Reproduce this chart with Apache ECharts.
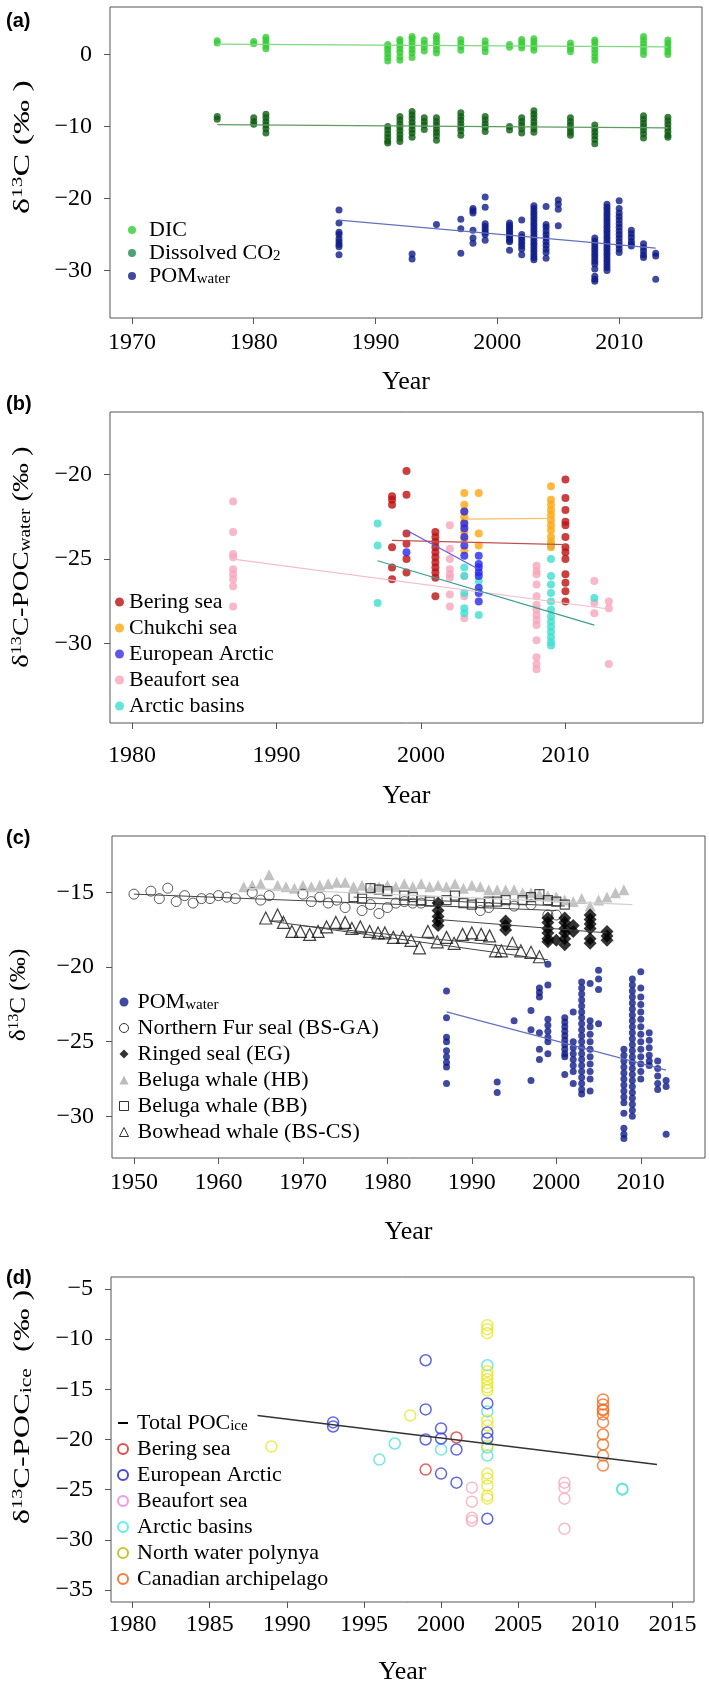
<!DOCTYPE html>
<html><head><meta charset="utf-8">
<script src="https://cdn.jsdelivr.net/npm/echarts@6/dist/echarts.min.js"></script>
<style>html,body{margin:0;padding:0;background:#fff}#c{width:709px;height:1687px}</style>
</head><body><div id="c"></div><script>
// ---------- Panel (a) ----------
const dicCols = [
 [1977,[1.6,1.9]],[1980,[1.5,1.8]],[1981,[0.8,1.2,1.6,2.0,2.4]],
 [1991,[-0.9,-0.4,0.1,0.6,1.0,1.4]],[1992,[-0.8,-0.3,0.3,0.8,1.3,1.8,2.1]],
 [1993,[-0.4,0.2,0.7,1.2,1.7,2.2,2.5]],[1994,[0.5,1.0,1.5,2.0]],
 [1995,[0.2,0.7,1.2,1.7,2.2,2.6]],[1997,[0.6,1.1,1.6,2.1]],[1999,[0.4,0.9,1.4,1.9]],
 [2001,[1.0,1.4]],[2002,[0.9,1.3,1.7,2.1]],[2003,[0.6,1.0,1.4,1.8,2.2]],
 [2006,[0.4,0.8,1.2,1.6]],[2008,[-0.8,-0.3,0.2,0.7,1.2,1.7,2.0]],
 [2012,[0.0,0.5,1.0,1.5,2.0,2.5]],[2014,[0.0,0.4,0.8,1.2,1.6,2.0]]
];
const dicFit = [[1977,1.45],[2014,1.05]];
const co2Cols = [
 [1977,[-8.6,-9.0]],[1980,[-8.8,-9.3,-9.7]],[1981,[-8.3,-8.8,-9.3,-9.8,-10.3,-10.9]],
 [1991,[-10.0,-10.5,-11.0,-11.5,-12.0,-12.3]],[1992,[-8.6,-9.1,-9.6,-10.1,-10.6,-11.1,-11.6,-12.1]],
 [1993,[-7.9,-8.4,-8.9,-9.4,-9.9,-10.4,-10.9,-11.5]],[1994,[-8.8,-9.3,-9.8,-10.4]],
 [1995,[-8.8,-9.3,-9.8,-10.3,-10.8,-11.3,-11.9]],[1997,[-8.1,-8.6,-9.1,-9.6,-10.1,-10.6,-11.2]],
 [1999,[-8.6,-9.1,-9.6,-10.1,-10.7]],[2001,[-10.0,-10.5]],[2002,[-8.8,-9.3,-9.8,-10.3,-10.9]],
 [2003,[-7.8,-8.3,-8.8,-9.3,-9.8,-10.3,-10.8]],[2006,[-8.8,-9.3,-9.8,-10.3,-10.8,-11.2]],
 [2008,[-9.8,-10.3,-10.8,-11.3,-11.8,-12.4]],[2012,[-8.5,-9.0,-9.5,-10.0,-10.5,-11.0,-11.6]],
 [2014,[-8.7,-9.2,-9.7,-10.2,-10.7,-11.2,-11.5]]
];
const co2Fit = [[1977,-9.75],[2014,-10.2]];
const pomCols = [
 [1987,[-21.6,-23.4,-24.7,-25.0,-25.6,-26.0,-26.4,-26.7,-27.8]],
 [1993,[-27.7,-28.4]],[1995,[-23.6]],[1997,[-22.9,-24.2,-27.6]],
 [1998,[-21.4,-21.7,-22.0,-24.4,-25.5,-26.2]],
 [1999,[-19.8,-21.2,-23.5,-23.9,-24.3,-24.7,-25.0,-25.8]],
 [2001,[-23.4,-23.7,-24.0,-24.3,-24.6,-24.9,-25.2,-25.5,-25.8,-26.0,-27.2]],
 [2002,[-23.0,-25.0,-25.4,-25.8,-26.2,-26.6,-27.0,-27.8]],
 [2003,[-21.0,-21.4,-21.8,-22.2,-22.6,-23.0,-23.4,-23.8,-24.2,-24.6,-25.0,-25.4,-25.8,-26.2,-26.6,-27.0,-27.4,-27.8,-28.2,-28.5]],
 [2004,[-21.1,-23.6,-24.0,-24.5,-25.0,-25.5,-26.0,-26.5,-27.0,-27.5,-28.3]],
 [2005,[-20.2,-20.8,-21.5,-23.8]],
 [2008,[-25.5,-25.9,-26.3,-26.7,-27.1,-27.5,-27.9,-28.3,-28.7,-29.1,-29.8,-30.8,-31.2,-31.5]],
 [2009,[-20.8,-21.2,-21.6,-22.0,-22.4,-22.8,-23.2,-23.6,-24.0,-24.4,-24.8,-25.2,-25.6,-26.0,-26.4,-26.8,-27.2,-27.6,-28.0,-28.4,-28.8,-29.2,-29.6,-30.0]],
 [2010,[-20.3,-21.4,-22.0,-22.5,-23.0,-23.5,-24.0,-24.5,-25.0,-25.5,-26.0,-26.5,-27.0,-27.5]],
 [2011,[-24.4,-24.9,-25.4,-25.9,-26.3,-26.6]],
 [2012,[-26.3,-26.8,-27.3,-27.8,-28.2]],
 [2013,[-27.6,-28.0,-31.2]]
];
const pomFit = [[1987,-23.0],[2013,-26.9]];

// ---------- Panel (b) ----------
const beringB = [
 [1998,[-21.3,-21.5,-21.8,-24.3,-25.5,-26.2]],
 [1999,[-19.8,-21.2,-23.5,-24.1,-25.0,-25.8]],
 [2001,[-23.4,-23.7,-24.0,-24.3,-24.6,-24.9,-25.2,-25.5,-25.8,-26.1,-27.2]],
 [2010,[-20.3,-21.4,-22.1,-22.8,-23.0,-23.7,-24.3,-24.6,-25.0,-25.9,-26.4,-26.9,-27.5]]
];
const beringBFit = [[1998,-23.9],[2010,-24.15]];
const chukchiB = [
 [2003,[-21.1,-21.8,-22.2,-22.5,-22.8,-23.1,-23.4,-23.8,-24.5]],
 [2004,[-21.1,-23.5,-24.2]],
 [2009,[-20.7,-21.5,-21.8,-22.1,-22.4,-22.7,-23.0,-23.3,-23.7,-24.0,-24.3]]
];
const chukchiBFit = [[2003,-22.65],[2009,-22.6]];
const euroB = [
 [1999,[-24.6]],
 [2003,[-22.2,-22.9,-23.2,-23.7,-24.2,-24.8]],
 [2004,[-24.8,-25.3,-25.5,-25.8,-26.0,-26.7,-27.0,-27.5]]
];
const euroBFit = [[1999,-23.3],[2004,-25.6]];
const beaufortB = [
 [1987,[-21.6,-23.4,-24.7,-24.9,-25.6,-25.9,-26.2,-26.6,-27.8]],
 [2002,[-23.0,-24.4,-25.0,-25.6,-25.9,-26.1,-27.1,-27.8]],
 [2003,[-26.0,-27.2,-28.5]],
 [2008,[-25.4,-25.7,-25.9,-26.5,-27.2,-27.7,-28.0,-28.3,-28.6,-28.9,-29.8,-30.8,-31.2,-31.5]],
 [2012,[-26.3,-27.6,-28.2]],
 [2013,[-27.5,-27.9,-31.2]]
];
const beaufortBFit = [[1987,-25.0],[2013,-27.95]];
const basinsB = [
 [1997,[-22.9,-24.2,-27.6]],
 [2003,[-25.5,-26.0,-27.0,-27.9,-28.2]],
 [2004,[-26.3,-28.3]],
 [2009,[-24.2,-25.0,-26.0,-26.5,-27.0,-27.5,-28.0,-28.4,-28.7,-29.0,-29.3,-29.6,-29.9,-30.1]],
 [2012,[-27.3]]
];
const basinsBFit = [[1997,-25.1],[2012,-28.9]];

// ---------- Panel (c) ----------
const furSeal = [[1950,-15.1],[1952,-14.9],[1953,-15.4],[1954,-14.7],[1955,-15.6],[1956,-15.2],[1957,-15.7],[1958,-15.4],[1959,-15.4],[1960,-15.2],[1961,-15.3],[1962,-15.4],[1964,-15.0],[1965,-15.5],[1966,-15.2],[1970,-15.1],[1971,-15.6],[1972,-15.3],[1973,-15.7],[1974,-15.5],[1975,-16.0],[1977,-16.2],[1978,-15.8],[1979,-16.4],[1980,-16.0],[1981,-15.7],[1982,-15.6],[1983,-15.7],[1984,-15.7],[1991,-16.2],[1992,-16.0],[1995,-15.9],[1997,-15.8],[1999,-16.5],[2000,-16.5]];
const furSealFit = [[1950,-15.1],[2000,-16.2]];
const ringedCols = [
 [1986,[-15.7,-16.2,-16.6,-16.9,-17.2]],[1994,[-16.9,-17.2,-17.5]],
 [1999,[-16.7,-17.0,-17.4,-17.7,-18.1,-18.3]],[2000,[-18.2]],
 [2001,[-16.7,-17.0,-17.4,-17.7,-18.1,-18.5]],[2002,[-17.2,-17.6]],
 [2004,[-16.5,-16.8,-17.1,-17.4,-18.1,-18.4]],[2006,[-17.6,-17.9,-18.2]]
];
const ringedFit = [[1986,-16.8],[2006,-17.7]];
const belugaHB = [[1963,-14.6],[1964,-14.5],[1965,-14.4],[1966,-13.8],[1967,-14.5],[1968,-14.6],[1969,-14.7],[1970,-14.5],[1971,-14.6],[1972,-14.5],[1973,-14.4],[1974,-14.3],[1975,-14.3],[1976,-14.6],[1977,-14.5],[1978,-14.7],[1979,-14.6],[1980,-14.5],[1981,-14.6],[1982,-14.4],[1983,-14.6],[1984,-14.4],[1985,-14.6],[1986,-14.5],[1987,-14.6],[1988,-14.4],[1989,-14.7],[1990,-14.5],[1991,-14.6],[1992,-14.8],[1993,-14.8],[1994,-14.8],[1995,-14.8],[1996,-15.0],[1997,-15.0],[1998,-15.1],[1999,-15.2],[2000,-15.3],[2001,-15.5],[2002,-15.6],[2003,-15.4],[2004,-15.9],[2005,-15.5],[2006,-15.3],[2007,-15.0],[2008,-14.8]];
const belugaHBFit = [[1963,-14.7],[2009,-15.8]];
const belugaBB = [[1976,-15.3],[1977,-15.4],[1978,-14.7],[1979,-14.8],[1980,-14.9],[1982,-15.2],[1983,-15.3],[1984,-15.5],[1985,-15.6],[1987,-15.5],[1988,-15.2],[1989,-15.7],[1990,-15.8],[1991,-15.7],[1992,-15.6],[1993,-15.6],[1994,-15.5],[1996,-15.5],[1997,-15.3],[1998,-15.1],[1999,-15.5],[2000,-15.6],[2001,-15.8]];
const belugaBBFit = [[1976,-15.3],[2001,-15.9]];
const bowhead = [[1965.6,-16.7],[1967,-16.5],[1967.7,-17.0],[1968.7,-17.6],[1969.7,-17.6],[1970.8,-17.8],[1971.8,-17.6],[1972.8,-17.3],[1973.9,-17.0],[1975,-17.0],[1975.8,-17.4],[1976.8,-17.3],[1977.9,-17.6],[1978.9,-17.7],[1979.7,-17.7],[1980.7,-18.0],[1981.8,-18.0],[1982.8,-18.2],[1983.8,-18.7],[1984.8,-17.6],[1985.9,-18.3],[1987,-18.0],[1987.9,-18.4],[1988.9,-17.8],[1990,-17.7],[1991.1,-17.8],[1992.1,-17.9],[1992.8,-18.9],[1993.5,-18.9],[1994.8,-18.4],[1995.8,-18.9],[1997,-19.0],[1998,-19.3]];
const bowheadFit1 = [[1966,-16.9],[1999,-19.5]];
const bowheadFit2 = [[1969.7,-17.2],[1996,-18.7]];

// ---------- Panel (d) ----------
const beringD = [[1999,-23.0],[2001,-19.8]];
const euroD = [[1993,-18.3],[1993,-18.7],[1999,-12.1],[1999,-17.0],[1999,-20.0],[2000,-18.9],[2000,-19.9],[2000,-23.4],[2001,-21.0],[2001,-24.3],[2003,-16.4],[2003,-19.3],[2003,-19.9],[2003,-27.9]];
const beaufortD = [[2002,-24.8],[2002,-26.2],[2002,-27.8],[2002,-28.1],[2008,-24.3],[2008,-24.8],[2008,-25.9],[2008,-28.9]];
const basinsD = [[1996,-22.0],[1997,-20.4],[2000,-21.0],[2003,-12.6],[2003,-17.2],[2003,-20.8],[2003,-21.6],[2011.75,-24.9],[2011.75,-25.0]];
const nwpD = [[1989,-20.7],[1998,-17.6],[2003,-8.6],[2003,-9.0],[2003,-9.4],[2003,-13.2],[2003,-13.6],[2003,-14.0],[2003,-14.4],[2003,-14.8],[2003,-15.1],[2003,-18.1],[2003,-18.6],[2003,-20.6],[2003,-23.4],[2003,-23.9],[2003,-24.6],[2003,-25.6],[2003,-25.9]];
const canD = [[2010.5,-16.0],[2010.5,-16.5],[2010.5,-17.0],[2010.5,-17.1],[2010.5,-17.5],[2010.5,-18.3],[2010.5,-19.5],[2010.5,-20.5],[2010.5,-21.6],[2010.5,-22.6]];
const totalIceFit = [[1988.1,-17.6],[2014,-22.5]];

// ---------- Tick labels ----------
const xTicksA = [1970,1980,1990,2000,2010];
const xTicksB = [1980,1990,2000,2010];
const xTicksC = [1950,1960,1970,1980,1990,2000,2010];
const xTicksD = [1980,1985,1990,1995,2000,2005,2010,2015];
const yTicksA = [0,-10,-20,-30];
const yTicksB = [-20,-25,-30];
const yTicksC = [-15,-20,-25,-30];
const yTicksD = [-5,-10,-15,-20,-25,-30,-35];

// ---------- helpers ----------
const SERIF = 'Liberation Serif';
function cols(list){const out=[];list.forEach(([x,vals])=>vals.forEach(v=>out.push([x,v])));return out;}
function xAx(i,min,max,ticks,margin,gap){
  return {type:'value',gridIndex:i,min,max,name:'Year',nameLocation:'middle',nameGap:gap,
    nameTextStyle:{fontFamily:SERIF,fontSize:26,color:'#000'},
    axisLine:{show:false,onZero:false},splitLine:{show:false},
    axisTick:{show:true,length:6,lineStyle:{color:'#555'},customValues:ticks},
    axisLabel:{fontFamily:SERIF,fontSize:24,color:'#000',margin,customValues:ticks,formatter:v=>String(v)}};
}
function yAx(i,min,max,ticks){
  return {type:'value',gridIndex:i,min,max,
    axisLine:{show:false,onZero:false},splitLine:{show:false},
    axisTick:{show:true,length:6,lineStyle:{color:'#555'},customValues:ticks},
    axisLabel:{fontFamily:SERIF,fontSize:24,color:'#000',margin:18,customValues:ticks,formatter:v=>String(v).replace('-','\u2212')}};
}
const titleRich = {
  t:{fontFamily:SERIF,fontSize:24,fill:'#000'},
  sup:{fontFamily:SERIF,fontSize:15,fill:'#000',verticalAlign:'top',lineHeight:14},
  sub:{fontFamily:SERIF,fontSize:16,fill:'#000',verticalAlign:'bottom',lineHeight:10}
};
function yTitle(text,x,y,s){
  return {type:'text',x,y,rotation:Math.PI/2,scaleX:s,scaleY:1,silent:true,
    style:{text,align:'center',verticalAlign:'middle',rich:titleRich,fontFamily:SERIF,fontSize:24,fill:'#000'}};
}
function sc(name,i,data,color,size,extra){
  return Object.assign({type:'scatter',name,xAxisIndex:i,yAxisIndex:i,data,symbol:'circle',symbolSize:size,
    itemStyle:{color,borderWidth:0},emphasis:{disabled:true},z:3},extra||{});
}
function open(name,i,data,symbol,color,size,bw){
  return {type:'scatter',name,xAxisIndex:i,yAxisIndex:i,data,symbol,symbolSize:size,
    itemStyle:{color:'rgba(0,0,0,0)',borderColor:color,borderWidth:bw},emphasis:{disabled:true},z:3};
}
function fit(name,i,data,color,w){
  return {type:'line',name,xAxisIndex:i,yAxisIndex:i,data,symbol:'none',silent:true,
    lineStyle:{color,width:w||1.2},z:4};
}
const subMap = {'POM water':'{t|POM}{s|water}','Dissolved CO2':'{t|Dissolved CO}{s|2}','Total POC ice':'{t|Total POC}{s|ice}'};
function legendRich(sp){
  return {sp:{width:sp,height:1},t:{fontFamily:SERIF,fontSize:22,color:'#000',lineHeight:22},
    s:{fontFamily:SERIF,fontSize:15,color:'#000',lineHeight:8,verticalAlign:'bottom'}};
}
function lg(left,top,gap,size,sp,items){
  return {orient:'vertical',left,top,itemGap:gap,itemWidth:size,itemHeight:size,padding:0,
    selectedMode:false,symbolKeepAspect:true,
    textStyle:{fontFamily:SERIF,fontSize:22,color:'#000',lineHeight:22,rich:legendRich(sp)},
    formatter:n=>'{sp|}'+(subMap[n]||('{t|'+n+'}')),
    data:items.map(([name,icon,fill,stroke,bw])=>({name,icon,itemStyle:{color:fill,borderColor:stroke||fill,borderWidth:bw||0}}))};
}

// colours
const cDIC='#35cc33', cCO2='#0c5e12', cPOM='#0f1c88';
const cBerB='#bd1010', cChuB='#ffa60f', cEurB='#2828ee', cBeaB='#f6a6bb', cBasB='#3fdfd0';
const cBerD='#e03434', cEurD='#3344e0', cBeaD='#f5a9b8', cBasD='#4fe3da', cNwpD='#e9e62c', cCanD='#f26a1b';

const panelLabel = (t,top)=>({text:t,left:6,top,padding:0,textStyle:{fontFamily:'Liberation Sans',fontWeight:'bold',fontSize:20,color:'#000'}});

const option = {
  animation:false,
  backgroundColor:'#fff',
  title:[panelLabel('(a)',11),panelLabel('(b)',394),panelLabel('(c)',828),panelLabel('(d)',1268)],
  graphic:[
    yTitle('{t|δ}{sup|13}{t|C (‰ )}',22.5,147,1.42),
    yTitle('{t|δ}{sup|13}{t|C-POC}{sub|water}{t| (‰ )}',21.5,557,1.2),
    yTitle('{t|δ}{sup|13}{t|C (‰)}',19,995,1.05),
    yTitle('{t|δ}{sup|13}{t|C-POC}{sub|ice}{t|  (‰ )}',22.5,1407,1.35)
  ],
  grid:[
    {left:110,top:7,width:592,height:311,show:true,borderColor:'#555',borderWidth:1},
    {left:110,top:412,width:593,height:311,show:true,borderColor:'#555',borderWidth:1},
    {left:112,top:836,width:593,height:322,show:true,borderColor:'#555',borderWidth:1},
    {left:111,top:1277,width:583,height:325,show:true,borderColor:'#555',borderWidth:1}
  ],
  xAxis:[
    xAx(0,1968.2,2016.8,xTicksA,13,51),
    xAx(1,1978.48,2019.52,xTicksB,21,60),
    xAx(2,1947.4,2017.6,xTicksC,13,61),
    xAx(3,1978.6,2016.4,xTicksD,11,57)
  ],
  yAxis:[
    yAx(0,-36.6,6.6,yTicksA),
    yAx(1,-34.68,-16.32,yTicksB),
    yAx(2,-32.8,-11.2,yTicksC),
    yAx(3,-36.2,-3.8,yTicksD)
  ],
  legend:[
    lg(128,219,1,8,8,[['DIC','circle',cDIC],['Dissolved CO2','circle','#1f8a58'],['POM water','circle',cPOM]]),
    lg(115,591,4,9,0,[['Bering sea','circle',cBerB],['Chukchi sea','circle',cChuB],['European Arctic','circle','#3a2ae8'],['Beaufort sea','circle',cBeaB],['Arctic basins','circle',cBasB]]),
    lg(119,991,4,9,4,[['POM water','circle',cPOM],['Northern Fur seal (BS-GA)','circle','rgba(0,0,0,0)','#000',1],['Ringed seal (EG)','diamond','#000'],['Beluga whale (HB)','triangle','#aaa'],['Beluga whale (BB)','rect','rgba(0,0,0,0)','#000',1],['Bowhead whale (BS-CS)','triangle','rgba(0,0,0,0)','#000',1]]),
    lg(117,1412,4,10,4,[['Total POC ice','path://M0,0 L10,0 L10,2 L0,2 Z','#000'],['Bering sea','circle','rgba(0,0,0,0)','#e02020',2],['European Arctic','circle','rgba(0,0,0,0)','#1a1ad0',2],['Beaufort sea','circle','rgba(0,0,0,0)','#ee80e0',2],['Arctic basins','circle','rgba(0,0,0,0)','#40e8e8',2],['North water polynya','circle','rgba(0,0,0,0)','#bcb400',2],['Canadian archipelago','circle','rgba(0,0,0,0)','#f05a10',2]])
  ],
  series:[
    // (a)
    sc('DIC',0,cols(dicCols),cDIC,7),
    sc('Dissolved CO2',0,cols(co2Cols),cCO2,7),
    sc('POM water',0,cols(pomCols),cPOM,7),
    fit('fitDIC',0,dicFit,'#7fd77f'),
    fit('fitCO2',0,co2Fit,'#5f9a62'),
    fit('fitPOMa',0,pomFit,'#6570c0'),
    // (b)
    sc('Beaufort sea',1,cols(beaufortB),cBeaB,8),
    sc('Arctic basins',1,cols(basinsB),cBasB,8),
    sc('Bering sea',1,cols(beringB),cBerB,8),
    sc('Chukchi sea',1,cols(chukchiB),cChuB,8),
    sc('European Arctic',1,cols(euroB),cEurB,8),
    fit('fitBeaB',1,beaufortBFit,'#f5bccb'),
    fit('fitBasB',1,basinsBFit,'#3c9c90'),
    fit('fitBerB',1,beringBFit,'#c25050'),
    fit('fitChuB',1,chukchiBFit,'#f4c066'),
    fit('fitEurB',1,euroBFit,'#5a5ae2'),
    // (c)
    sc('Beluga whale (HB)',2,belugaHB,'#b3b3b3',11,{symbol:'triangle',z:2}),
    fit('fitHB',2,belugaHBFit,'#cfcfcf',1.2),
    open('Northern Fur seal (BS-GA)',2,furSeal,'circle','#333',10,1),
    open('Beluga whale (BB)',2,belugaBB,'rect','#222',9,1.2),
    open('Bowhead whale (BS-CS)',2,bowhead,'triangle','#111',12,1.2),
    sc('Ringed seal (EG)',2,cols(ringedCols),'#000',13,{symbol:'diamond'}),
    sc('POM water',2,cols(pomCols),cPOM,7),
    fit('fitFur',2,furSealFit,'#444',1),
    fit('fitBB',2,belugaBBFit,'#444',1),
    fit('fitRinged',2,ringedFit,'#444',1),
    fit('fitBow1',2,bowheadFit1,'#444',1),
    fit('fitBow2',2,bowheadFit2,'#444',1),
    fit('fitPOMc',2,pomFit,'#6570c0'),
    // (d)
    open('Beaufort sea',3,beaufortD,'circle',cBeaD,11,1.5),
    open('Arctic basins',3,basinsD,'circle',cBasD,11,1.5),
    open('North water polynya',3,nwpD,'circle',cNwpD,11,1.5),
    open('Canadian archipelago',3,canD,'circle',cCanD,11,1.5),
    open('European Arctic',3,euroD,'circle',cEurD,11,1.5),
    open('Bering sea',3,beringD,'circle',cBerD,11,1.5),
    fit('Total POC ice',3,totalIceFit,'#333',1.5)
  ]
};
const chart = echarts.init(document.getElementById('c'),null,{renderer:'canvas'});
chart.setOption(option);
</script></body></html>
